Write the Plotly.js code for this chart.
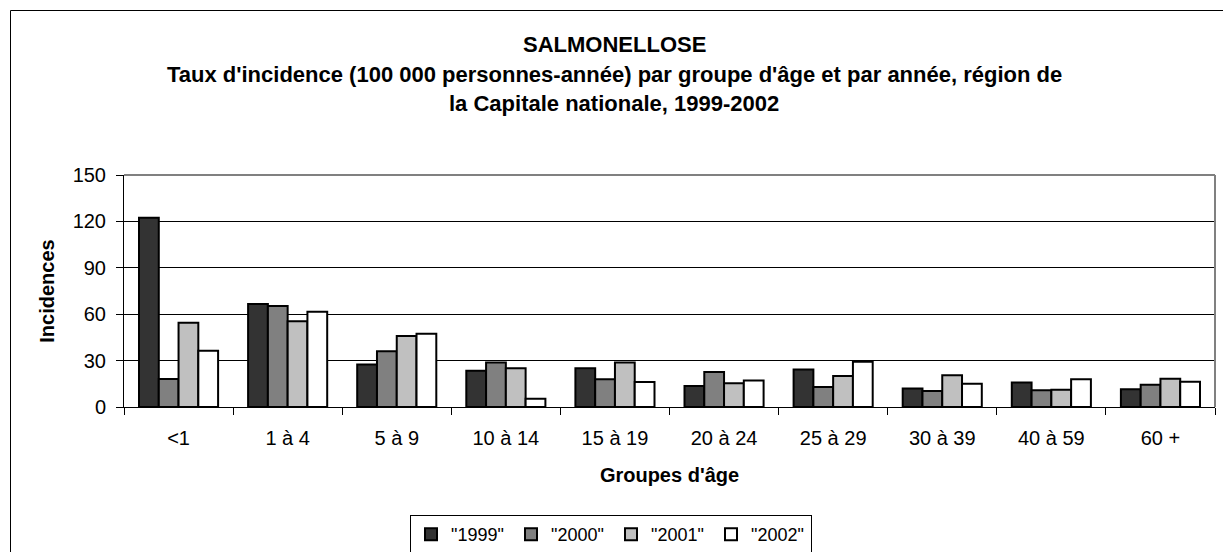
<!DOCTYPE html>
<html>
<head>
<meta charset="utf-8">
<script src="https://cdn.plot.ly/plotly-3.0.1.min.js"></script>
<style>
html,body{margin:0;padding:0;background:#fff;overflow:hidden;}
#chart{width:1223px;height:552px;}
</style>
</head>
<body>
<div id="chart"></div>
<script>
const categories = ["<1", "1 à 4", "5 à 9", "10 à 14", "15 à 19", "20 à 24", "25 à 29", "30 à 39", "40 à 59", "60 +"];
const seriesNames = ['"1999"', '"2000"', '"2001"', '"2002"'];
const v1999 = [122.4, 66.6, 27.4, 23.5, 25.0, 13.6, 24.3, 11.9, 15.9, 11.4];
const v2000 = [18.1, 65.3, 36.0, 28.7, 17.9, 22.6, 12.9, 10.3, 10.8, 14.4];
const v2001 = [54.5, 55.4, 45.9, 25.0, 28.7, 15.3, 20.0, 20.5, 11.2, 18.3];
const v2002 = [36.4, 61.6, 47.4, 5.4, 16.2, 17.2, 29.3, 15.1, 17.9, 16.4];
const yTicks = [0, 30, 60, 90, 120, 150];
const titleLines = [
  "SALMONELLOSE",
  "Taux d'incidence (100 000 personnes-année) par groupe d'âge et par année, région de",
  "la Capitale nationale, 1999-2002"
];

const FONT = "'Liberation Sans', Arial, sans-serif";
const fills = ["#333333", "#808080", "#c0c0c0", "#ffffff"];
const allValues = [v1999, v2000, v2001, v2002];

const traces = allValues.map((vals, i) => ({
  type: "bar",
  name: seriesNames[i],
  x: categories,
  y: vals,
  marker: {color: fills[i], line: {color: "#000000", width: 2}},
  hoverinfo: "x+y+name"
}));

// plot area: x 124..1215, y 175..407
const plotTop = 175, plotBottom = 407, plotH = plotBottom - plotTop;
const plotLeft = 124, plotRight = 1215, plotW = plotRight - plotLeft;
const py = (pix) => (plotBottom - pix) / plotH;
const px = (pix) => (pix - plotLeft) / plotW;

const titleY = [44, 75, 104];
const annotations = titleLines.map((t, i) => ({
  text: "<b>" + t + "</b>",
  xref: "paper", yref: "paper",
  x: px(614), y: py(titleY[i]),
  xanchor: "center", yanchor: "middle",
  showarrow: false,
  font: {family: FONT, size: 22, color: "#000"}
}));

const layout = {
  width: 1223, height: 552,
  margin: {l: plotLeft, r: 1223 - plotRight, t: plotTop, b: 552 - plotBottom, pad: 0},
  paper_bgcolor: "#ffffff",
  plot_bgcolor: "#ffffff",
  font: {family: FONT, size: 20, color: "#000"},
  barmode: "group",
  bargap: 0.275,
  bargroupgap: 0,
  showlegend: true,
  legend: {
    orientation: "h",
    xref: "container", yref: "container",
    x: 611 / 1223, xanchor: "center",
    y: 1 - 515 / 552, yanchor: "top",
    bordercolor: "#000", borderwidth: 1,
    font: {family: FONT, size: 18},
    itemwidth: 30,
    entrywidth: 55,
    entrywidthmode: "pixels",
    tracegroupgap: 0
  },
  xaxis: {
    type: "category",
    tickson: "boundaries",
    ticks: "outside", ticklen: 7, tickcolor: "#000",
    showline: true, linecolor: "#000", linewidth: 1,
    showgrid: false,
    tickfont: {family: FONT, size: 20},
    ticklabelstandoff: 13,
    title: {text: "<b>Groupes d'âge</b>", font: {family: FONT, size: 20}, standoff: 19},
    automargin: false
  },
  yaxis: {
    range: [0, 150],
    tickvals: yTicks,
    ticks: "outside", ticklen: 7, tickcolor: "#000",
    showline: true, linecolor: "#000", linewidth: 1,
    showgrid: true, gridcolor: "#000", gridwidth: 1,
    zeroline: false,
    tickfont: {family: FONT, size: 20},
    ticklabelstandoff: 6,
    title: {text: "<b>Incidences</b>", font: {family: FONT, size: 20}, standoff: 12},
    automargin: false
  },
  annotations: annotations,
  shapes: [
    {type: "line", xref: "paper", yref: "paper", x0: 0, x1: 1, y0: 1, y1: 1, line: {color: "#808080", width: 2}},
    {type: "line", xref: "paper", yref: "paper", x0: 1, x1: 1, y0: 0, y1: 1, line: {color: "#808080", width: 2}},
    {type: "rect", xref: "paper", yref: "paper", x0: px(10.5), x1: px(1240), y0: py(10.5), y1: py(570), line: {color: "#000", width: 1}, fillcolor: "rgba(0,0,0,0)", layer: "below"}
  ]
};

Plotly.newPlot("chart", traces, layout, {displayModeBar: false, staticPlot: true});
</script>
</body>
</html>
